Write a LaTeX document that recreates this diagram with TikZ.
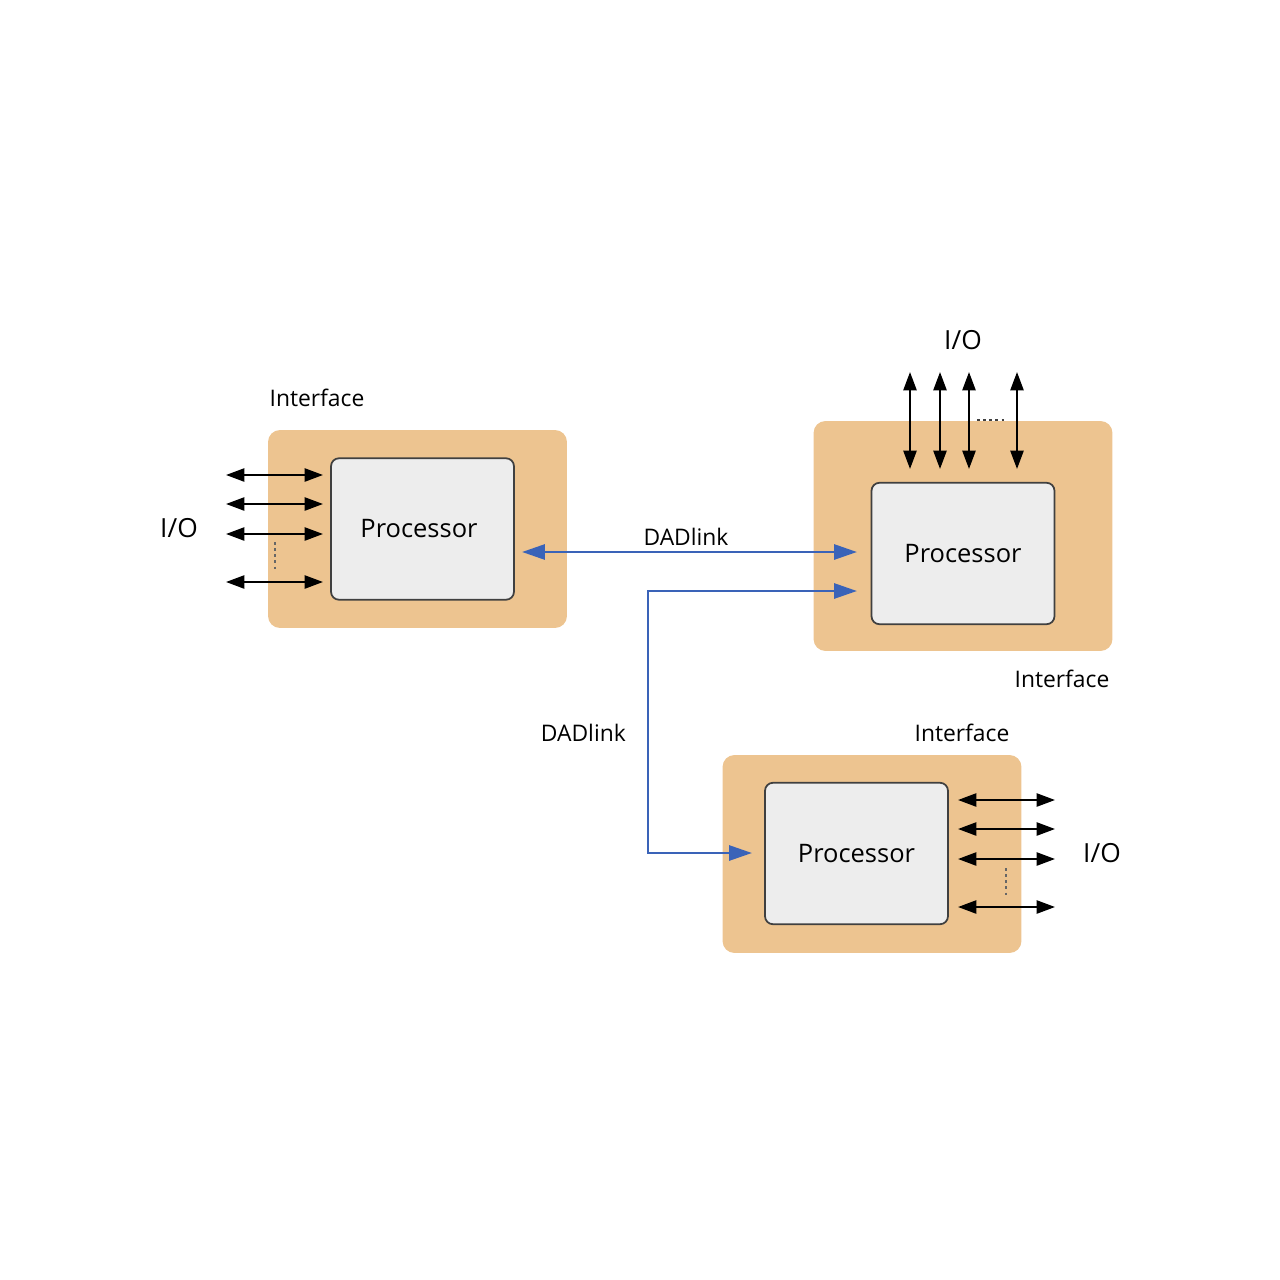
\documentclass[tikz,border=0pt]{standalone}
\usepackage{fontspec}
\setmainfont{Open Sans}
\usetikzlibrary{arrows.meta,positioning}
\definecolor{ifaceorange}{HTML}{EDC490}
\definecolor{procgray}{HTML}{EDEDED}
\definecolor{dadblue}{HTML}{3A63B8}
\tikzset{>/.tip={Triangle[length=10.5pt,width=7.5pt]}}
\tikzset{b>/.tip={Triangle[length=13pt,width=8.5pt]}}
\tikzset{iface/.style={fill=ifaceorange,rounded corners=0.24cm,minimum width=5.98cm,minimum height=3.96cm}}
\tikzset{proc/.style={draw=black!75,line width=1pt,fill=procgray,rounded corners=0.16cm,minimum width=3.66cm,minimum height=2.83cm,font=\fontsize{14.5}{16}\selectfont}}
\tikzset{io/.style={<->,line width=1.2pt}}
\tikzset{dad/.style={b>-b>,draw=dadblue,line width=1.6pt}}
\tikzset{dots/.style={black!60,line width=0.6pt,dash pattern=on 1.5pt off 2pt}}
\tikzset{lbl/.style={font=\fontsize{13}{15}\selectfont}}
\tikzset{iolbl/.style={font=\fontsize{15}{17}\selectfont}}
\begin{document}
\begin{tikzpicture}[x=0.02cm,y=-0.02cm]
        \useasboundingbox (0,0) rectangle (1280,1280);
        % interface boxes
        \node(ifA)[iface] at (417.5,529){};
        \node(ifB)[iface,minimum height=4.6cm] at (963,536){};
        \node(ifC)[iface] at (872,854){};
        % processors
        \node(pA)[proc] at (422.5,529){\hspace*{-4pt}Processor};
        \node(pB)[proc] at (963,553.5){Processor};
        \node(pC)[proc] at (856.5,853.5){Processor};
        % labels
        \node(lA)[lbl] at (317,398){Interface};
        \node(lB)[lbl] at (1062,679){Interface};
        \node(lC)[lbl] at (962,733){Interface};
        \node(ioA)[iolbl] at (179,528){I/O};
        \node(ioB)[iolbl] at (963,340){I/O};
        \node(ioC)[iolbl] at (1102,853){I/O};
        % I/O lines
        \foreach \y [count=\i] in {475,504,534,582}{
          \coordinate (aL\i) at (226,\y);
          \coordinate (aR\i) at (323,\y);
          \draw[io] (aL\i) -- (aR\i);
        }
        \foreach \x [count=\i] in {910,940,969,1017}{
          \coordinate (bT\i) at (\x,372);
          \coordinate (bB\i) at (\x,469);
          \draw[io] (bT\i) -- (bB\i);
        }
        \foreach \y [count=\i] in {800,829,859,907}{
          \coordinate (cL\i) at (958,\y);
          \coordinate (cR\i) at (1055,\y);
          \draw[io] (cL\i) -- (cR\i);
        }
        \coordinate (gA1) at (275,542);
        \coordinate (gA2) at (275,572);
        \coordinate (gB1) at (977,420);
        \coordinate (gB2) at (1007,420);
        \coordinate (gC1) at (1006,868);
        \coordinate (gC2) at (1006,898);
        \draw[dots] (gA1) -- (gA2);
        \draw[dots,black!75,line width=0.9pt] (gB1) -- (gB2);
        \draw[dots,line width=0.9pt] (gC1) -- (gC2);
        % DADlinks
        \coordinate (d1) at (522,552);
        \coordinate (d2) at (857,552);
        \coordinate (d3) at (752,853);
        \coordinate (d4) at (857,591);
        \coordinate (k1) at (648,591);
        \draw[dad] (d1) -- node[lbl,above,inner sep=3pt,xshift=-2pt]{DADlink} (d2);
        \draw[dad] (d3) -| (k1) -- (d4);
        \node(lD)[lbl,anchor=east] at (632,733){DADlink};
      \end{tikzpicture}
\end{document}
